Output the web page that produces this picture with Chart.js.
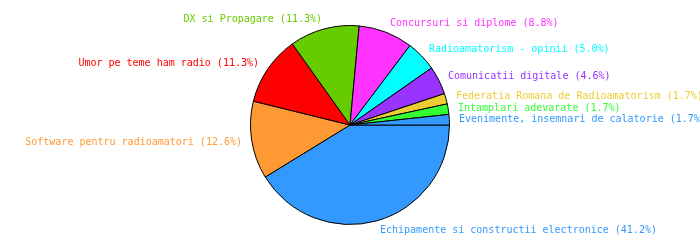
<!DOCTYPE html>
<html>
<head>
<meta charset="utf-8">
<script src="https://cdn.jsdelivr.net/npm/chart.js@4/dist/chart.umd.min.js"></script>
<style>
html,body{margin:0;padding:0;background:#fff;}
#wrap{width:700px;height:250px;position:relative;}
</style>
</head>
<body>
<div id="wrap"><canvas id="c" width="700" height="250"></canvas></div>
<script>
const categories = [
  "Echipamente si constructii electronice",
  "Software pentru radioamatori",
  "Umor pe teme ham radio",
  "DX si Propagare",
  "Concursuri si diplome",
  "Radioamatorism - opinii",
  "Comunicatii digitale",
  "Federatia Romana de Radioamatorism",
  "Intamplari adevarate",
  "Evenimente, insemnari de calatorie"
];
const percentValues = [41.2, 12.6, 11.3, 11.3, 8.8, 5.0, 4.6, 1.7, 1.7, 1.7];
const sliceColors = ["#3399ff","#ff9933","#ff0000","#66cc00","#ff33ff","#00ffff","#9933ff","#eecc33","#33ff33","#3399ff"];

const labelPlugin = {
  id: 'outLabels',
  afterDatasetsDraw(chart) {
    const ctx = chart.ctx;
    const meta = chart.getDatasetMeta(0);
    ctx.save();
    ctx.font = '10px "DejaVu Sans Mono", monospace';
    ctx.textBaseline = 'middle';
    meta.data.forEach((arc, i) => {
      const p = arc.getProps(['x','y','startAngle','endAngle','outerRadius'], true);
      const mid = (p.startAngle + p.endAngle) / 2;
      const r = p.outerRadius + 10;
      const x = p.x + Math.cos(mid) * r;
      const y = p.y + Math.sin(mid) * r;
      ctx.textAlign = Math.cos(mid) >= 0 ? 'left' : 'right';
      ctx.fillStyle = sliceColors[i];
      ctx.fillText(categories[i] + ' (' + percentValues[i].toFixed(1) + '%)', Math.round(x), Math.round(y));
    });
    ctx.restore();
  }
};

new Chart(document.getElementById('c'), {
  type: 'pie',
  data: {
    labels: categories,
    datasets: [{
      data: percentValues,
      backgroundColor: sliceColors,
      borderColor: '#000000',
      borderWidth: 1
    }]
  },
  options: {
    responsive: false,
    animation: false,
    rotation: 90,
    layout: { padding: { left: 250, right: 250, top: 25, bottom: 25 } },
    plugins: { legend: { display: false }, tooltip: { enabled: false } }
  },
  plugins: [labelPlugin]
});
</script>
</body>
</html>
